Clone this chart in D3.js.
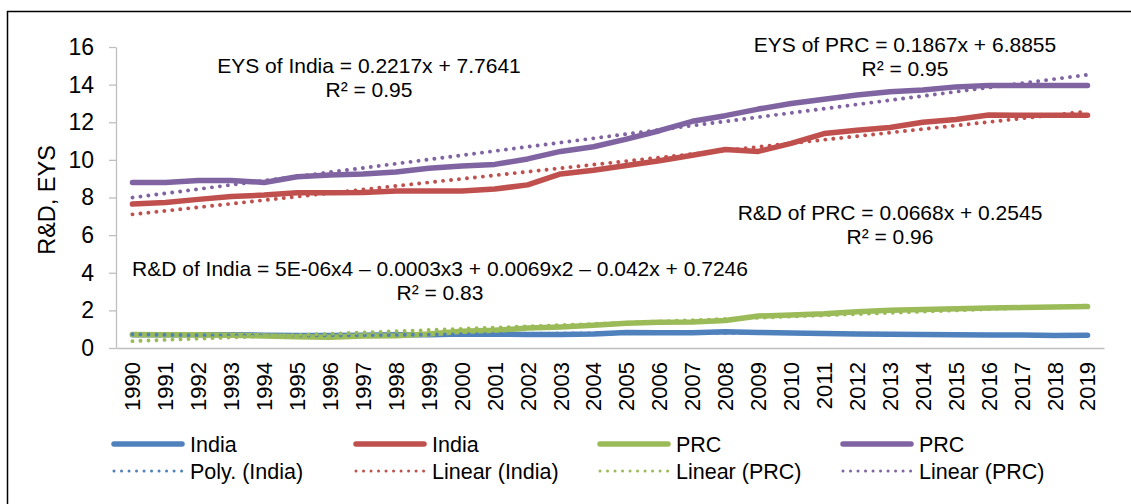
<!DOCTYPE html>
<html>
<head>
<meta charset="utf-8">
<script src="https://cdn.jsdelivr.net/npm/d3@7"></script>
<style>
  html, body { margin: 0; padding: 0; background: #ffffff; }
  svg { display: block; }
  text { font-family: "Liberation Sans", Arial, sans-serif; fill: #000; }
</style>
</head>
<body>
<svg id="chart" width="1131" height="504"></svg>
<script>
// ---------------- data ----------------
const years = [1990,1991,1992,1993,1994,1995,1996,1997,1998,1999,
               2000,2001,2002,2003,2004,2005,2006,2007,2008,2009,
               2010,2011,2012,2013,2014,2015,2016,2017,2018,2019];

const rdIndia  = [0.70,0.70,0.70,0.70,0.68,0.66,0.66,0.68,0.70,0.71,
                  0.74,0.73,0.72,0.72,0.75,0.82,0.81,0.81,0.86,0.83,
                  0.80,0.77,0.75,0.73,0.72,0.71,0.69,0.69,0.67,0.68];
const eysIndia = [7.65,7.73,7.90,8.05,8.13,8.25,8.25,8.27,8.35,8.35,
                  8.35,8.45,8.67,9.25,9.45,9.70,9.95,10.25,10.55,10.45,
                  10.88,11.40,11.58,11.72,12.00,12.15,12.38,12.37,12.37,12.37];
const rdPRC    = [0.72,0.70,0.70,0.68,0.64,0.60,0.57,0.64,0.65,0.75,
                  0.89,0.94,1.06,1.12,1.21,1.31,1.37,1.38,1.46,1.70,
                  1.76,1.82,1.93,2.01,2.05,2.08,2.12,2.15,2.18,2.20];
const eysPRC   = [8.80,8.80,8.90,8.90,8.80,9.10,9.20,9.25,9.35,9.55,
                  9.67,9.76,10.05,10.45,10.70,11.10,11.55,12.05,12.35,12.70,
                  13.00,13.22,13.45,13.62,13.72,13.88,13.96,13.96,13.96,13.95];

const yTicks = [0,2,4,6,8,10,12,14,16];
const yLabel = "R&D, EYS";

const seriesNames  = ["India","India","PRC","PRC"];
const trendNames   = ["Poly. (India)","Linear (India)","Linear (PRC)","Linear (PRC)"];
const seriesColors = ["#4F81BD","#C0504D","#9BBB59","#8064A2"];

const annotations = [
  {lines:["EYS of India = 0.2217x + 7.7641","R\u00B2 = 0.95"], cx:369, y:73},
  {lines:["EYS of PRC = 0.1867x + 6.8855","R\u00B2 = 0.95"], cx:905, y:52},
  {lines:["R&D of PRC = 0.0668x + 0.2545","R\u00B2 = 0.96"], cx:890, y:220},
  {lines:["R&D of India = 5E-06x4 \u2013 0.0003x3 + 0.0069x2 \u2013 0.042x + 0.7246","R\u00B2 = 0.83"], cx:440, y:276}
];

// ---------------- regression helpers (least squares, like Excel trendlines) ----------------
function polyFit(ys, order) {
  const n = order + 1;
  const A = Array.from({length:n}, () => new Array(n).fill(0));
  const b = new Array(n).fill(0);
  ys.forEach((yv, i) => {
    const xv = i + 1;
    for (let r = 0; r < n; r++) {
      b[r] += yv * Math.pow(xv, r);
      for (let c = 0; c < n; c++) A[r][c] += Math.pow(xv, r + c);
    }
  });
  for (let k = 0; k < n; k++) {
    let p = k;
    for (let r = k + 1; r < n; r++) if (Math.abs(A[r][k]) > Math.abs(A[p][k])) p = r;
    [A[k], A[p]] = [A[p], A[k]]; [b[k], b[p]] = [b[p], b[k]];
    for (let r = k + 1; r < n; r++) {
      const f = A[r][k] / A[k][k];
      for (let c = k; c < n; c++) A[r][c] -= f * A[k][c];
      b[r] -= f * b[k];
    }
  }
  const coef = new Array(n).fill(0);
  for (let r = n - 1; r >= 0; r--) {
    let s = b[r];
    for (let c = r + 1; c < n; c++) s -= A[r][c] * coef[c];
    coef[r] = s / A[r][r];
  }
  return xv => coef.reduce((acc, cf, i) => acc + cf * Math.pow(xv, i), 0);
}

// ---------------- layout ----------------
const svg = d3.select("#chart");
const plotLeft = 116, plotRight = 1104, plotTop = 47, plotBottom = 348;

// outer border
svg.append("rect")
  .attr("x", 7.5).attr("y", 11.5)
  .attr("width", 1140).attr("height", 510)
  .attr("fill", "none").attr("stroke", "#000").attr("stroke-width", 1.5);

const x = d3.scaleBand().domain(years).range([plotLeft, plotRight]);
const bw = x.bandwidth();
const xc = d => x(d) + bw / 2;
const xi = d3.scaleLinear().domain([1, years.length]).range([xc(years[0]), xc(years[years.length - 1])]);
const y = d3.scaleLinear().domain([0, 16]).range([plotBottom, plotTop]);

// y axis
const yAxis = svg.append("g")
  .attr("transform", `translate(${plotLeft},0)`)
  .call(d3.axisLeft(y).tickValues(yTicks).tickSize(7).tickSizeOuter(0).tickPadding(15));
yAxis.select(".domain").attr("stroke", "#BFBFBF").attr("stroke-width", 1.3);
yAxis.selectAll(".tick line").attr("stroke", "#BFBFBF").attr("stroke-width", 1.3);
yAxis.selectAll(".tick text").style("font-size", "23px").attr("fill", "#000");

// x axis
const xAxis = svg.append("g")
  .attr("transform", `translate(0,${plotBottom})`)
  .call(d3.axisBottom(x).tickSize(0).tickSizeOuter(0).tickPadding(0));
xAxis.select(".domain").attr("stroke", "#BFBFBF").attr("stroke-width", 1.3);
xAxis.selectAll(".tick text")
  .style("font-size", "22px").attr("fill", "#000")
  .attr("text-anchor", "end")
  .attr("transform", "rotate(-90)")
  .attr("x", -14).attr("y", 0).attr("dy", "0.36em");

// y label
svg.append("text")
  .attr("transform", `translate(55,200) rotate(-90)`)
  .attr("text-anchor", "middle")
  .style("font-size", "23.5px")
  .text(yLabel);

// series lines
const seriesData = [rdIndia, eysIndia, rdPRC, eysPRC];
const line = d3.line().x((d, i) => xc(years[i])).y(d => y(d));
seriesData.forEach((s, k) => {
  svg.append("path")
    .attr("d", line(s))
    .attr("fill", "none")
    .attr("stroke", seriesColors[k])
    .attr("stroke-width", 5.5)
    .attr("stroke-linecap", "round")
    .attr("stroke-linejoin", "round");
});

// trendlines
const orders = [4, 1, 1, 1];
const samples = d3.range(1, years.length + 0.001, 0.25);
const tline = d3.line().x(d => xi(d[0])).y(d => y(d[1]));
seriesData.forEach((s, k) => {
  const f = polyFit(s, orders[k]);
  svg.append("path")
    .attr("d", tline(samples.map(t => [t, f(t)])))
    .attr("fill", "none")
    .attr("stroke", seriesColors[k])
    .attr("stroke-width", 3.9)
    .attr("stroke-linecap", "round")
    .attr("stroke-dasharray", "0.01 8");
});

// annotations
annotations.forEach(a => {
  a.lines.forEach((t, j) => {
    svg.append("text")
      .attr("x", a.cx).attr("y", a.y + j * 24)
      .attr("text-anchor", "middle")
      .style("font-size", "21px")
      .text(t);
  });
});

// legend
const legX = [112, 354, 598, 841];
const legY = [444, 471];
seriesNames.forEach((nm, k) => {
  const g = svg.append("g");
  g.append("line")
    .attr("x1", legX[k] + 2).attr("x2", legX[k] + 70)
    .attr("y1", legY[0]).attr("y2", legY[0])
    .attr("stroke", seriesColors[k]).attr("stroke-width", 5.5).attr("stroke-linecap", "round");
  g.append("text").attr("x", legX[k] + 78).attr("y", legY[0] + 8)
    .style("font-size", "21.5px").text(nm);
  g.append("line")
    .attr("x1", legX[k] + 2).attr("x2", legX[k] + 70)
    .attr("y1", legY[1]).attr("y2", legY[1])
    .attr("stroke", seriesColors[k]).attr("stroke-width", 3).attr("stroke-linecap", "round")
    .attr("stroke-dasharray", "0.01 7.5");
  g.append("text").attr("x", legX[k] + 78).attr("y", legY[1] + 8)
    .style("font-size", "21.5px").text(trendNames[k]);
});
</script>
</body>
</html>
